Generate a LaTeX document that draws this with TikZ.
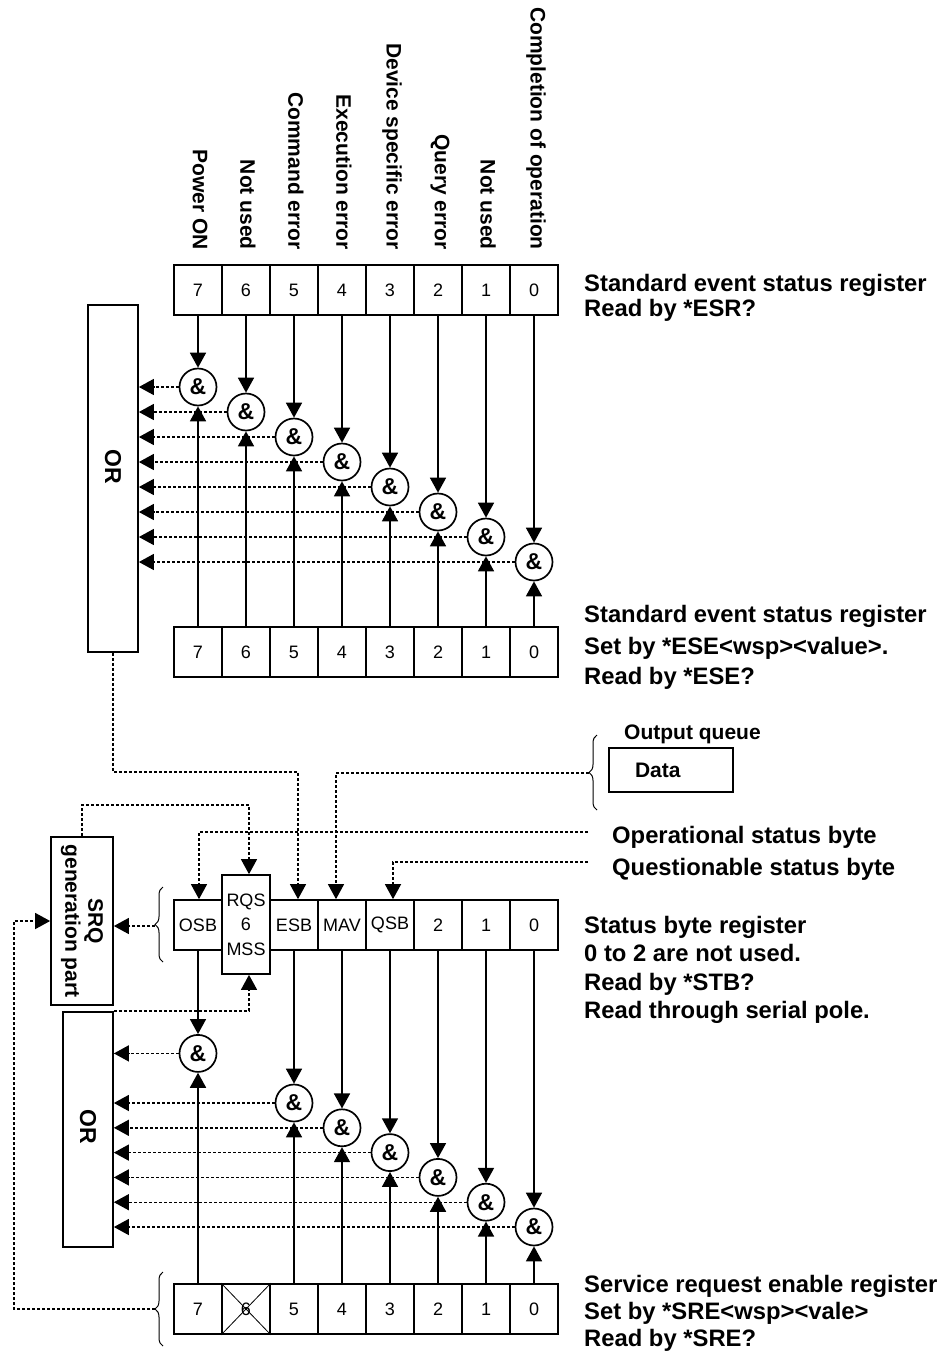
\documentclass[tikz,border=0pt]{standalone}
\usepackage{fontspec}
\setmainfont{Liberation Sans}
\usetikzlibrary{arrows.meta,decorations.pathreplacing,calc}
\begin{document}
\begin{tikzpicture}[x=1pt,y=1pt,
  reg/.style={draw, line width=1.7pt, minimum width=48pt, minimum height=50pt, inner sep=0pt, font=\fontsize{18}{20}\selectfont},
  gate/.style={draw, circle, line width=1.7pt, minimum size=37pt, inner sep=0pt, font=\fontsize{23}{24}\selectfont\bfseries},
  sig/.style={line width=1.7pt, -{Triangle[width=16pt,length=15pt]}},
  dsh/.style={line width=1.4pt, dash pattern=on 3pt off 2pt, -{Triangle[width=16pt,length=15pt]}},
  blk/.style={draw, line width=1.7pt, inner sep=0pt},
  toplab/.style={rotate=-90, anchor=east, font=\fontsize{21}{24}\selectfont\bfseries, inner sep=0pt},
  side/.style={anchor=base west, inner sep=0pt, font=\fontsize{23.8}{28}\selectfont\bfseries},
  bold21/.style={font=\fontsize{21}{23}\selectfont\bfseries},
  brc/.style={decorate, decoration={brace, amplitude=8pt}, line width=1pt}
]
\useasboundingbox (0,0) rectangle (952,-1357);

% ---------- top OR block ----------
\node[blk, minimum width=50pt, minimum height=347pt] (or1) at (113,-478.5) {};
\node[rotate=-90, font=\fontsize{23}{24}\selectfont\bfseries] (or1t) at (113,-467) {OR};

% ---------- standard event status register / enable ----------
\foreach \t [count=\i from 0] in {Power ON,Not used,Command error,Execution error,Device specific error,Query error,Not used,Completion of operation}
  \node[toplab] (lab\i) at ({200+48*\i},-250) {\t};

\foreach \b [count=\i from 0] in {7,6,5,4,3,2,1,0} {
  \node[reg] (a\b) at ({198+48*\i},-290) {\b};
  \node[reg] (e\b) at ({198+48*\i},-652) {\b};
  \node[gate] (g\b) at ({198+48*\i},{-387-25*\i}) {\&};
  \draw[sig] (a\b) -- (g\b);
  \draw[sig] (e\b) -- (g\b);
  \draw[dsh] (g\b) -- (g\b -| or1.east);
}

\node[side] (l1) at (584,-291.5) {Standard event status register};
\node[side] (l2) at (584,-316.5) {Read by *ESR?};
\node[side] (l3) at (584,-622.5) {Standard event status register};
\node[side] (l4) at (584,-654.5) {Set by *ESE<wsp><value>.};
\node[side] (l5) at (584,-684.5) {Read by *ESE?};

% ---------- output queue ----------
\node[anchor=base west, inner sep=0pt, bold21] (oq) at (624,-739.5) {Output queue};
\node[blk, minimum height=44pt, inner xsep=26pt, text width=72pt, align=left, bold21] (data) at (671,-770) {Data};
\draw[brc] (597,-810) -- (597,-735);
\coordinate (oqtip) at (589,-773);

% ---------- status byte register ----------
\node[reg] (osb) at (198,-925) {OSB};
\node[reg, minimum height=99pt, align=center, font=\fontsize{18}{24.5}\selectfont] (rqs) at (246,-924.5) {RQS\\6\\MSS};
\node[reg] (esb) at (294,-925) {ESB};
\node[reg] (mav) at (342,-925) {MAV};
\node[reg] (qsb) at (390,-925) {QSB};
\node[reg] (s2) at (438,-925) {2};
\node[reg] (s1) at (486,-925) {1};
\node[reg] (s0) at (534,-925) {0};
\draw[brc] (163,-962) -- (163,-887);
\coordinate (sbtip) at (155,-926);

\node[side] (o1) at (612,-843.5) {Operational status byte};
\node[side] (o2) at (612,-875.5) {Questionable status byte};
\coordinate (opsrc) at (588,-832);
\coordinate (qssrc) at (588,-862);

\node[side] (l6) at (584,-933.5) {Status byte register};
\node[side] (l7) at (584,-961.5) {0 to 2 are not used.};
\node[side] (l8) at (584,-990.5) {Read by *STB?};
\node[side] (l9) at (584,-1018.5) {Read through serial pole.};

% ---------- SRQ generation part ----------
\node[blk, minimum width=62pt, minimum height=168pt] (srq) at (82,-921) {};
\node[rotate=-90, align=center, bold21] (srqt) at (srq.center) {SRQ\\generation part};

% ---------- bottom OR block ----------
\node[blk, minimum width=50pt, minimum height=235pt] (or2) at (88,-1129.5) {};
\node[rotate=-90, font=\fontsize{23}{24}\selectfont\bfseries] (or2t) at (88,-1127) {OR};

% ---------- service request enable register ----------
\foreach \b [count=\i from 0] in {7,6,5,4,3,2,1,0}
  \node[reg] (c\b) at ({198+48*\i},-1309) {\b};
\draw[line width=0.8pt] (c6.north west) -- (c6.south east) (c6.north east) -- (c6.south west);
\draw[brc] (163,-1346) -- (163,-1272);
\coordinate (srtip) at (155,-1309);

\node[side] (l10) at (584,-1292.5) {Service request enable register};
\node[side] (l11) at (584,-1319.5) {Set by *SRE<wsp><vale>};
\node[side] (l12) at (584,-1346.5) {Read by *SRE?};

% ---------- lower gates ----------
\foreach \s/\g/\i in {osb/7/0, esb/5/2, mav/4/3, qsb/3/4, s2/2/5, s1/1/6, s0/0/7} {
  \node[gate] (h\g) at ({198+48*\i},{-1053.4-24.8*\i}) {\&};
  \draw[sig] (\s) -- (h\g);
  \draw[sig] (c\g) -- (h\g);
  \draw[dsh] (h\g) -- (h\g -| or2.east);
}

% ---------- dashed connections ----------
\coordinate (esbin) at ([xshift=4pt]esb.north);
\coordinate (mavin) at ([xshift=-6pt]mav.north);
\coordinate (qsbin) at ([xshift=3pt]qsb.north);
\coordinate (osbin) at ([xshift=1pt]osb.north);
\coordinate (rqsin) at ([xshift=3pt]rqs.north);
\coordinate (rqsout) at ([xshift=3pt]rqs.south);
\draw[dsh] (or1.south) |- (esbin |- 0,-772) -- (esbin);
\draw[dsh] (oqtip) -| (mavin);
\draw[dsh] (opsrc) -| (osbin);
\draw[dsh] (qssrc) -| (qsbin);
\draw[dsh] (srq.north) -- ++(0,31) -| (rqsin);
\draw[dsh] (sbtip) -- (sbtip -| srq.east);
\draw[dsh] (or2.north east) -| (rqsout);
\draw[dsh] (srtip) -- ++(-141,0) |- (srq.west);
\end{tikzpicture}
\end{document}
